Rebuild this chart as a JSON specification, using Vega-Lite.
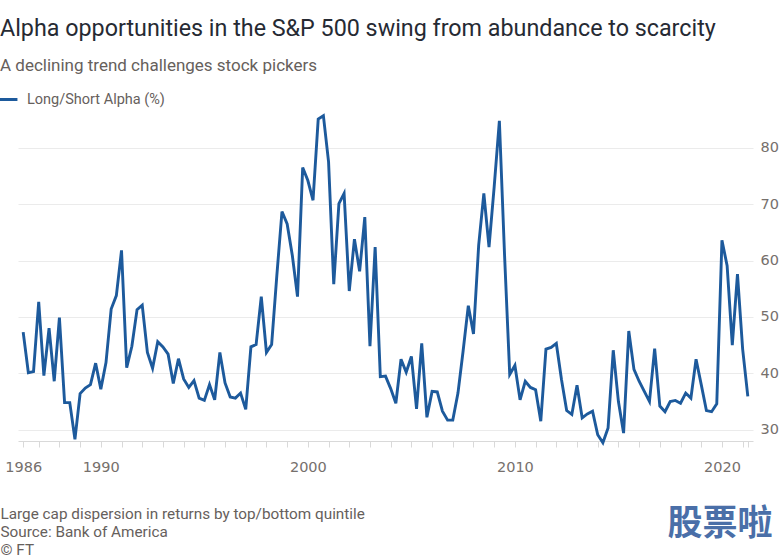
{
  "$schema": "https://vega.github.io/schema/vega-lite/v6.json",
  "width": 735,
  "height": 327,
  "autosize": {"type": "none"},
  "padding": {"left": 18, "top": 114, "right": 31, "bottom": 119},
  "background": "#ffffff",
  "title": {
    "text": "Alpha opportunities in the S&P 500 swing from abundance to scarcity",
    "subtitle": "A declining trend challenges stock pickers",
    "anchor": "start",
    "frame": "group",
    "dx": -18,
    "offset": 14,
    "font": "Roboto",
    "fontSize": 23.3,
    "fontWeight": "normal",
    "color": "#262a33",
    "subtitleFont": "Roboto",
    "subtitleFontSize": 17,
    "subtitleColor": "#66605c",
    "subtitlePadding": 17
  },
  "data": {
    "values": [
      {"t": 1986.25, "v": 47.3}, {"t": 1986.5, "v": 40.1}, {"t": 1986.75, "v": 40.3}, {"t": 1987.0, "v": 52.7},
      {"t": 1987.25, "v": 39.6}, {"t": 1987.5, "v": 48.0}, {"t": 1987.75, "v": 38.6}, {"t": 1988.0, "v": 49.9},
      {"t": 1988.25, "v": 34.8}, {"t": 1988.5, "v": 34.8}, {"t": 1988.75, "v": 28.3}, {"t": 1989.0, "v": 36.4},
      {"t": 1989.25, "v": 37.4}, {"t": 1989.5, "v": 38.0}, {"t": 1989.75, "v": 41.8}, {"t": 1990.0, "v": 37.2},
      {"t": 1990.25, "v": 41.9}, {"t": 1990.5, "v": 51.4}, {"t": 1990.75, "v": 53.8}, {"t": 1991.0, "v": 61.8},
      {"t": 1991.25, "v": 41.0}, {"t": 1991.5, "v": 44.8}, {"t": 1991.75, "v": 51.3}, {"t": 1992.0, "v": 52.1},
      {"t": 1992.25, "v": 43.7}, {"t": 1992.5, "v": 40.9}, {"t": 1992.75, "v": 45.6}, {"t": 1993.0, "v": 44.7},
      {"t": 1993.25, "v": 43.4}, {"t": 1993.5, "v": 38.2}, {"t": 1993.75, "v": 42.6}, {"t": 1994.0, "v": 39.0},
      {"t": 1994.25, "v": 37.5}, {"t": 1994.5, "v": 38.7}, {"t": 1994.75, "v": 35.6}, {"t": 1995.0, "v": 35.2},
      {"t": 1995.25, "v": 38.0}, {"t": 1995.5, "v": 35.3}, {"t": 1995.75, "v": 43.7}, {"t": 1996.0, "v": 38.3},
      {"t": 1996.25, "v": 35.8}, {"t": 1996.5, "v": 35.6}, {"t": 1996.75, "v": 36.5}, {"t": 1997.0, "v": 33.6},
      {"t": 1997.25, "v": 44.7}, {"t": 1997.5, "v": 45.1}, {"t": 1997.75, "v": 53.6}, {"t": 1998.0, "v": 43.7},
      {"t": 1998.25, "v": 45.1}, {"t": 1998.5, "v": 57.3}, {"t": 1998.75, "v": 68.7}, {"t": 1999.0, "v": 66.5},
      {"t": 1999.25, "v": 60.9}, {"t": 1999.5, "v": 53.6}, {"t": 1999.75, "v": 76.5}, {"t": 2000.0, "v": 74.2},
      {"t": 2000.25, "v": 70.7}, {"t": 2000.5, "v": 85.1}, {"t": 2000.75, "v": 85.7}, {"t": 2001.0, "v": 77.5},
      {"t": 2001.25, "v": 55.8}, {"t": 2001.5, "v": 70.1}, {"t": 2001.75, "v": 71.9}, {"t": 2002.0, "v": 54.6},
      {"t": 2002.25, "v": 63.8}, {"t": 2002.5, "v": 58.1}, {"t": 2002.75, "v": 67.7}, {"t": 2003.0, "v": 44.8},
      {"t": 2003.25, "v": 62.4}, {"t": 2003.5, "v": 39.4}, {"t": 2003.75, "v": 39.5}, {"t": 2004.0, "v": 37.3},
      {"t": 2004.25, "v": 34.7}, {"t": 2004.5, "v": 42.5}, {"t": 2004.75, "v": 40.2}, {"t": 2005.0, "v": 43.0},
      {"t": 2005.25, "v": 33.7}, {"t": 2005.5, "v": 45.3}, {"t": 2005.75, "v": 32.2}, {"t": 2006.0, "v": 36.8},
      {"t": 2006.25, "v": 36.7}, {"t": 2006.5, "v": 33.3}, {"t": 2006.75, "v": 31.7}, {"t": 2007.0, "v": 31.7},
      {"t": 2007.25, "v": 36.5}, {"t": 2007.5, "v": 44.0}, {"t": 2007.75, "v": 52.0}, {"t": 2008.0, "v": 47.0},
      {"t": 2008.25, "v": 62.7}, {"t": 2008.5, "v": 71.9}, {"t": 2008.75, "v": 62.4}, {"t": 2009.0, "v": 73.1},
      {"t": 2009.25, "v": 84.8}, {"t": 2009.5, "v": 61.0}, {"t": 2009.75, "v": 39.8}, {"t": 2010.0, "v": 41.4},
      {"t": 2010.25, "v": 35.3}, {"t": 2010.5, "v": 38.6}, {"t": 2010.75, "v": 37.5}, {"t": 2011.0, "v": 37.1},
      {"t": 2011.25, "v": 31.5}, {"t": 2011.5, "v": 44.3}, {"t": 2011.75, "v": 44.6}, {"t": 2012.0, "v": 45.3},
      {"t": 2012.25, "v": 38.9}, {"t": 2012.5, "v": 33.4}, {"t": 2012.75, "v": 32.7}, {"t": 2013.0, "v": 37.9},
      {"t": 2013.25, "v": 32.1}, {"t": 2013.5, "v": 32.8}, {"t": 2013.75, "v": 33.3}, {"t": 2014.0, "v": 29.1},
      {"t": 2014.25, "v": 27.7}, {"t": 2014.5, "v": 30.3}, {"t": 2014.75, "v": 44.1}, {"t": 2015.0, "v": 35.0},
      {"t": 2015.25, "v": 29.4}, {"t": 2015.5, "v": 47.5}, {"t": 2015.75, "v": 40.7}, {"t": 2016.0, "v": 38.6},
      {"t": 2016.25, "v": 36.8}, {"t": 2016.5, "v": 35.0}, {"t": 2016.75, "v": 44.4}, {"t": 2017.0, "v": 34.2},
      {"t": 2017.25, "v": 33.2}, {"t": 2017.5, "v": 35.0}, {"t": 2017.75, "v": 35.2}, {"t": 2018.0, "v": 34.7},
      {"t": 2018.25, "v": 36.5}, {"t": 2018.5, "v": 35.6}, {"t": 2018.75, "v": 42.5}, {"t": 2019.0, "v": 38.0},
      {"t": 2019.25, "v": 33.4}, {"t": 2019.5, "v": 33.2}, {"t": 2019.75, "v": 34.6}, {"t": 2020.0, "v": 63.6},
      {"t": 2020.25, "v": 59.1}, {"t": 2020.5, "v": 45.0}, {"t": 2020.75, "v": 57.6}, {"t": 2021.0, "v": 44.3},
      {"t": 2021.25, "v": 35.9}
    ]
  },
  "mark": {"type": "line", "strokeWidth": 2.9, "clip": false},
  "encoding": {
    "x": {
      "field": "t",
      "type": "quantitative",
      "scale": {"domain": [1986, 2021.5], "nice": false, "zero": false},
      "axis": {
        "orient": "bottom",
        "values": [1986.25, 1987, 1988, 1989, 1990, 1991, 1992, 1993, 1994, 1995, 1996, 1997, 1998, 1999, 2000, 2001, 2002, 2003, 2004, 2005, 2006, 2007, 2008, 2009, 2010, 2011, 2012, 2013, 2014, 2015, 2016, 2017, 2018, 2019, 2020, 2021, 2021.25],
        "labelExpr": "datum.value == 1986.25 ? '1986' : (datum.value % 10 == 0 ? format(datum.value, 'd') : '')",
        "labelOverlap": false,
        "labelFlush": false,
        "grid": false,
        "domain": true,
        "domainColor": "#d9d9d9",
        "ticks": true,
        "tickColor": "#d9d9d9",
        "tickSize": 6,
        "labelPadding": 13,
        "labelFont": "DejaVu Sans",
        "labelFontSize": 14.5,
        "labelColor": "#76706c",
        "title": ["Large cap dispersion in returns by top/bottom quintile", "Source: Bank of America", "© FT"],
        "titleAngle": 0,
        "titleAlign": "left",
        "titleBaseline": "alphabetic",
        "titleX": -18,
        "titleY": 77,
        "titleFont": "Roboto",
        "titleFontSize": 15.3,
        "titleFontWeight": "normal",
        "titleColor": "#66605c",
        "titleLineHeight": 18
      }
    },
    "y": {
      "field": "v",
      "type": "quantitative",
      "scale": {"domain": [28, 86], "nice": false, "zero": false},
      "axis": {
        "orient": "right",
        "values": [30, 40, 50, 60, 70, 80],
        "grid": true,
        "gridColor": "#ebebeb",
        "gridWidth": 1,
        "domain": false,
        "ticks": false,
        "labelPadding": 7,
        "labelFont": "DejaVu Sans",
        "labelFontSize": 14.5,
        "labelColor": "#76706c",
        "title": "股票啦",
        "titleAngle": 0,
        "titleAlign": "left",
        "titleBaseline": "alphabetic",
        "titleX": -86,
        "titleY": 420,
        "titleFont": "Noto Sans CJK SC",
        "titleFontSize": 35,
        "titleFontWeight": "bold",
        "titleColor": "#4a6fa8"
      }
    },
    "color": {
      "datum": "Long/Short Alpha (%)",
      "type": "nominal",
      "scale": {"range": ["#1d5a9c"]},
      "legend": {
        "orient": "none",
        "legendX": -20,
        "legendY": -25,
        "title": null,
        "padding": 0,
        "symbolType": "stroke",
        "symbolStrokeWidth": 3,
        "symbolSize": 320,
        "labelFont": "Roboto",
        "labelFontSize": 14.5,
        "labelColor": "#66605c",
        "labelOffset": 8
      }
    }
  },
  "config": {
    "view": {"stroke": null}
  }
}
